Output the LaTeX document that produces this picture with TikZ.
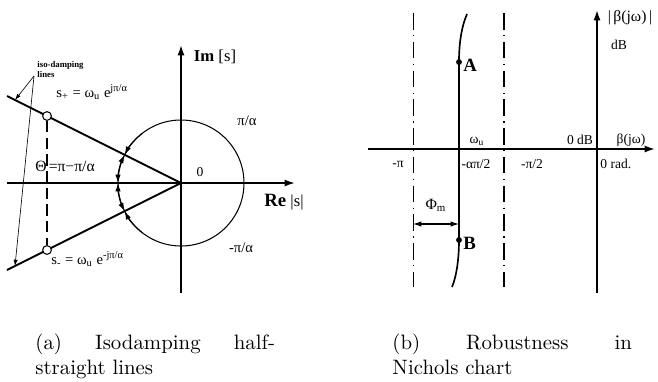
\documentclass[tikz,border=0pt]{standalone}
\usepackage{fontspec}
\newfontfamily\tms{Liberation Serif}
\usetikzlibrary{arrows.meta,calc}
\tolerance=10000 \hbadness=10000
\begin{document}
\begin{tikzpicture}[x=0.48pt,y=-0.48pt,>={Latex[length=4pt,width=2.6pt]},lbl/.style={inner sep=0pt,font=\tms\fontsize{6.5}{7}\selectfont},ax/.style={line width=0.8pt,-{Latex[length=5pt,width=3.4pt]}},iso/.style={line width=0.9pt},hole/.style={circle,draw,fill=white,line width=0.5pt,inner sep=0pt,minimum size=4.2pt},dot/.style={circle,fill,inner sep=0pt,minimum size=2.8pt},dd/.style={line width=#1,dash pattern=on 8pt off 2.6pt on 0.6pt off 2.6pt},subcap/.style={anchor=north west,inner sep=0pt,text width=115pt,align=justify}]
\useasboundingbox (0,0) rectangle (658,381);
% (a) isodamping half-straight lines
\coordinate (O) at (181,183); \coordinate (imb) at (181,293); \coordinate (imt) at (181,45); \coordinate (rel) at (7,183); \coordinate (rer) at (295,183);
\draw[ax] (imb) -- (imt); \draw[ax] (rel) -- (rer);
\draw[line width=0.5pt] (O) circle[radius=63];
\coordinate (up) at (7,96); \coordinate (lo) at (7,270); \coordinate (ua) at (15,100); \coordinate (la) at (15,266);
\draw[iso] (O) -- (up); \draw[iso] (O) -- (lo);
\draw[->,line width=0.5pt] ($(O)+(-128:63)$) arc[start angle=-128,end angle=-153.43,radius=63];
\draw[->,line width=0.5pt] ($(O)+(128:63)$) arc[start angle=128,end angle=153.43,radius=63];
\draw[<->,line width=0.5pt] ($(O)+(-153.43:63)$) arc[start angle=-153.43,end angle=-180,radius=63];
\draw[<->,line width=0.5pt] ($(O)+(180:63)$) arc[start angle=180,end angle=153.43,radius=63];
\node[hole] (sp) at (47,116) {}; \node[hole] (sm) at (47,250) {};
\draw[line width=0.8pt,dash pattern=on 5.5pt off 2.5pt] (sp) -- (sm);
\node[inner sep=0pt,anchor=north west,align=left,font=\tms\bfseries\fontsize{4.2}{4.8}\selectfont] (isoname) at (37,61) {iso-damping\\lines};
\coordinate (ia) at (34,76);
\draw[-{Latex[length=3pt,width=2pt]},line width=0.3pt] (ia) -- (ua); \draw[-{Latex[length=3pt,width=2pt]},line width=0.3pt] (ia) -- (la);
\node[lbl,font=\tms\fontsize{8}{9}\selectfont] (imlab) at (215,57) {\textbf{Im} [s]};
\node[lbl,font=\tms\fontsize{8}{9}\selectfont] (relab) at (284,202) {\textbf{\fontsize{9}{10}\selectfont Re} |s|};
\node[lbl] (zero) at (200,172) {0}; \node[lbl,font=\tms\fontsize{7}{8}\selectfont] (pa) at (247,121) {π/α}; \node[lbl,font=\tms\fontsize{7}{8}\selectfont] (ma) at (241,248) {-π/α};
\node[lbl,anchor=west,font=\tms\fontsize{7.5}{8}\selectfont] (theta) at (35,166) {Θ\kern1pt=π−π/α};
\node[lbl,anchor=west,font=\tms\fontsize{7}{8}\selectfont] (splab) at (56,92) {s\textsubscript{+} = ω\textsubscript{u} e\textsuperscript{jπ/α}};
\node[lbl,anchor=west,font=\tms\fontsize{7}{8}\selectfont] (smlab) at (51,259) {s\textsubscript{-} = ω\textsubscript{u} e\textsuperscript{-jπ/α}};
% (b) Nichols chart
\coordinate (vb) at (597,293); \coordinate (vt) at (597,10); \coordinate (hl) at (368,149); \coordinate (hr) at (655,149);
\draw[ax] (vb) -- (vt); \draw[ax] (hl) -- (hr);
\coordinate (pit) at (413,13); \coordinate (pib) at (413,287); \coordinate (p2t) at (504,13); \coordinate (p2b) at (504,287);
\draw[dd=0.45pt] (pit) -- (pib); \draw[dd=0.9pt] (p2t) -- (p2b);
\coordinate (ct) at (467,14); \coordinate (cb) at (452,287);
\node[dot] (A) at (459,62) {}; \node[dot] (B) at (459,240) {};
\draw[line width=0.8pt] (ct) .. controls (461,28) and (459,45) .. (A.center) -- (B.center) .. controls (459,257) and (457,275) .. (cb);
\node[lbl,anchor=west,font=\tms\bfseries\fontsize{9}{10}\selectfont] (alab) at (463,65) {A};
\node[lbl,anchor=west,font=\tms\bfseries\fontsize{9}{10}\selectfont] (blab) at (463,243) {B};
\node[lbl] (wu) at (477,141) {ω\textsubscript{u}};
\node[lbl] (mpi) at (398,164) {-π}; \node[lbl] (mapi) at (476,164) {-απ/2}; \node[lbl] (mpi2) at (532,164) {-π/2};
\node[lbl] (zdb) at (580,140) {0 dB}; \node[lbl] (beta) at (631,140) {β(jω)}; \node[lbl,anchor=west] (zrad) at (600,164) {0 rad.};
\node[lbl,font=\tms\fontsize{7.5}{8}\selectfont] (mag) at (630,18) {|\,β(jω)\,|}; \node[lbl] (db) at (619,45) {dB};
\node[lbl,font=\tms\fontsize{7.5}{8}\selectfont] (phim) at (436,205) {Φ\textsubscript{m}};
\coordinate (ml) at (413,224); \coordinate (mr) at (459,224);
\draw[<->,line width=0.5pt] (ml) -- (mr);
% captions
\node[subcap] (capa) at (35,333) {(a) Isodamping half-straight lines};
\node[subcap] (capb) at (392,333) {(b) Robustness in\linebreak Nichols chart};
\end{tikzpicture}
\end{document}
